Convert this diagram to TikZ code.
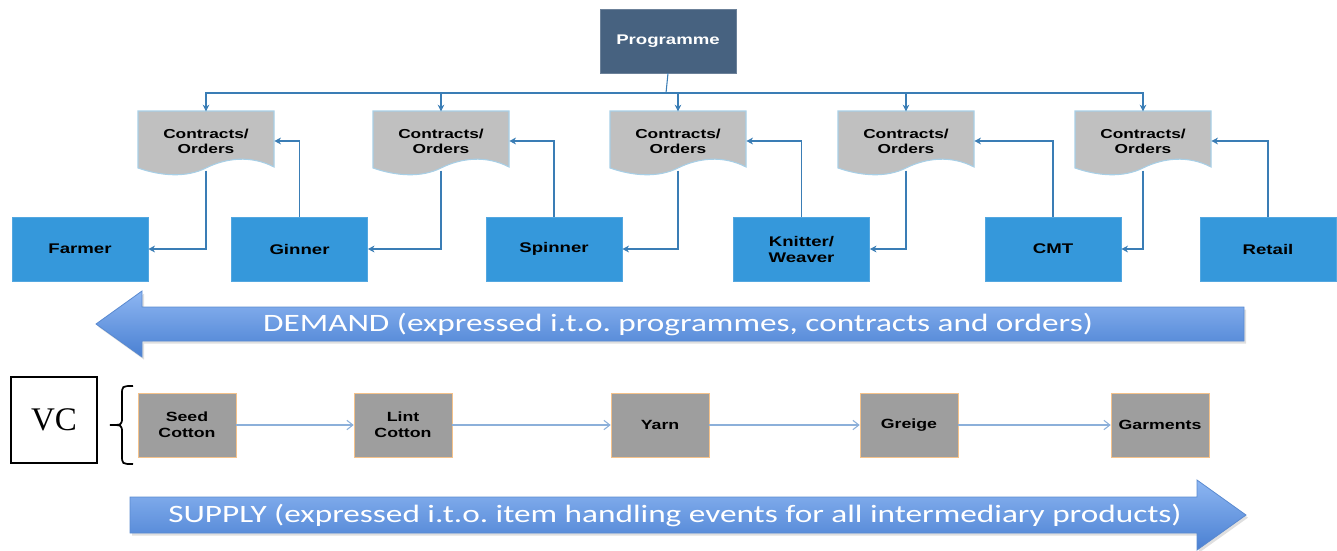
\documentclass[tikz,border=0pt]{standalone}
\usepackage{fontspec}
\usetikzlibrary{arrows.meta}
\usetikzlibrary{shadows}
\newfontfamily\boxfont[FakeStretch=1.33]{Liberation Sans}
\newfontfamily\bandfont[FakeStretch=1.33]{Carlito}
\newfontfamily\vcfont{Liberation Serif}
\definecolor{progblue}{HTML}{476280}
\definecolor{boxblue}{HTML}{3598DB}
\definecolor{docgray}{HTML}{C0C0C0}
\definecolor{docedge}{HTML}{A8CFE6}
\definecolor{linkblue}{HTML}{3A7DB5}
\definecolor{prodgray}{HTML}{9E9E9E}
\definecolor{prodedge}{HTML}{F5C28A}
\definecolor{flowblue}{HTML}{8CB0DA}
\definecolor{bandtop}{HTML}{8DB6F2}
\definecolor{bandbot}{HTML}{4A80D2}
\definecolor{bandedge}{HTML}{5A8AD0}
\frenchspacing

\begin{document}
\begin{tikzpicture}[x=0.75pt,y=-0.75pt,
  bluebox/.style={fill=boxblue,draw=boxblue!85!white,minimum width=102pt,minimum height=48pt,inner sep=0pt,align=center,font=\boxfont\bfseries\fontsize{10.5}{12}\selectfont},
  doclabel/.style={minimum width=102pt,minimum height=44pt,inner sep=0pt,align=center,font=\boxfont\bfseries\fontsize{9.75}{11.25}\selectfont},
  prodbox/.style={fill=prodgray,draw=prodedge,minimum width=73.5pt,minimum height=48pt,inner sep=0pt,align=center,font=\boxfont\bfseries\fontsize{10}{12}\selectfont},
  link/.style={draw=linkblue,line width=0.8pt},
  tip/.style={-{Stealth[length=5pt,width=5pt,inset=1.5pt]}},
  flow/.style={draw=flowblue,line width=0.8pt,-{Straight Barb[length=4.5pt,width=7pt]}},
  band/.style={top color=bandtop,bottom color=bandbot,draw=bandedge,line width=0.6pt,drop shadow={opacity=0.25,shadow xshift=1.5pt,shadow yshift=-2pt}},
  bandtext/.style={text=white,font=\bandfont\fontsize{18.75}{20}\selectfont}]
  \useasboundingbox (0,0) rectangle (1337,550);

  % programme and the contract sheets
  \node[fill=progblue,draw=progblue!80!white,minimum width=102pt,minimum height=48pt,inner sep=0pt,text=white,font=\boxfont\bfseries\fontsize{10.5}{12}\selectfont] (prog) at (668,41) {Programme};
  \foreach \x in {206,441,678,906,1143}
    \filldraw[fill=docgray,draw=docedge,line width=0.8pt] (\x-68,111) -- (\x+68,111) -- (\x+68,167) .. controls (\x+45,155) and (\x+20,158) .. (\x,168) .. controls (\x-20,178) and (\x-45,176) .. (\x-68,168) -- cycle;
  \node[doclabel] (c1) at (206,141) {Contracts/\\Orders};
  \node[doclabel] (c2) at (441,141) {Contracts/\\Orders};
  \node[doclabel] (c3) at (678,141) {Contracts/\\Orders};
  \node[doclabel] (c4) at (906,141) {Contracts/\\Orders};
  \node[doclabel] (c5) at (1143,141) {Contracts/\\Orders};

  % actors
  \node[bluebox] (farmer) at (80,249) {Farmer};
  \node[bluebox] (ginner) at (299.5,249) {Ginner};
  \node[bluebox] (spinner) at (554,249) {Spinner};
  \node[bluebox] (knitter) at (801.5,249) {Knitter/\\Weaver};
  \node[bluebox] (cmt) at (1053,249) {CMT};
  \node[bluebox] (retail) at (1268,249) {Retail};

  \coordinate (bus) at (666,93);
  \draw[link] (prog.south) -- (bus);
  \foreach \n in {c1,c2,c3,c4,c5}
    \draw[link,tip] (bus) -| (\n.north);
  \draw[link,tip] (c1.south) |- (farmer.east);
  \draw[link,tip] (c2.south) |- (ginner.east);
  \draw[link,tip] (c3.south) |- (spinner.east);
  \draw[link,tip] (c4.south) |- (knitter.east);
  \draw[link,tip] (c5.south) |- (cmt.east);
  \draw[link,tip] (ginner.north) |- (c1.east);
  \draw[link,tip] (spinner.north) |- (c2.east);
  \draw[link,tip] (knitter.north) |- (c3.east);
  \draw[link,tip] (cmt.north) |- (c4.east);
  \draw[link,tip] (retail.north) |- (c5.east);

  % demand band
  \path[band] (1244,307) -- (142,307) -- (142,291) -- (96,324) -- (142,357) -- (142,341) -- (1244,341) -- cycle;
  \node[bandtext] (demand) at (678,324) {DEMAND (expressed i.t.o. programmes, contracts and orders)};

  % value chain
  \node[draw,line width=0.8pt,minimum size=64.5pt,inner sep=0pt,font=\vcfont\fontsize{24.75}{28}\selectfont] (vc) at (54,420) {VC};
  \draw[line width=1.3pt] (133,386) .. controls (122,386) .. (122,395) -- (122,417) .. controls (122,425) .. (110,425) .. controls (122,425) .. (122,433) -- (122,455) .. controls (122,464) .. (133,464);
  \node[prodbox] (seed) at (187,425) {Seed\\Cotton};
  \node[prodbox] (lint) at (403,425) {Lint\\Cotton};
  \node[prodbox] (yarn) at (660,425) {Yarn};
  \node[prodbox] (greige) at (909,425) {Greige};
  \node[prodbox] (garm) at (1160,425) {Garments};
  \draw[flow] (seed) -- (lint);
  \draw[flow] (lint) -- (yarn);
  \draw[flow] (yarn) -- (greige);
  \draw[flow] (greige) -- (garm);

  % supply band
  \path[band] (130,497) -- (1197,497) -- (1197,480) -- (1246,515) -- (1197,550) -- (1197,533) -- (130,533) -- cycle;
  \node[bandtext] (supply) at (675,515) {SUPPLY (expressed i.t.o. item handling events for all intermediary products)};
\end{tikzpicture}
\end{document}
